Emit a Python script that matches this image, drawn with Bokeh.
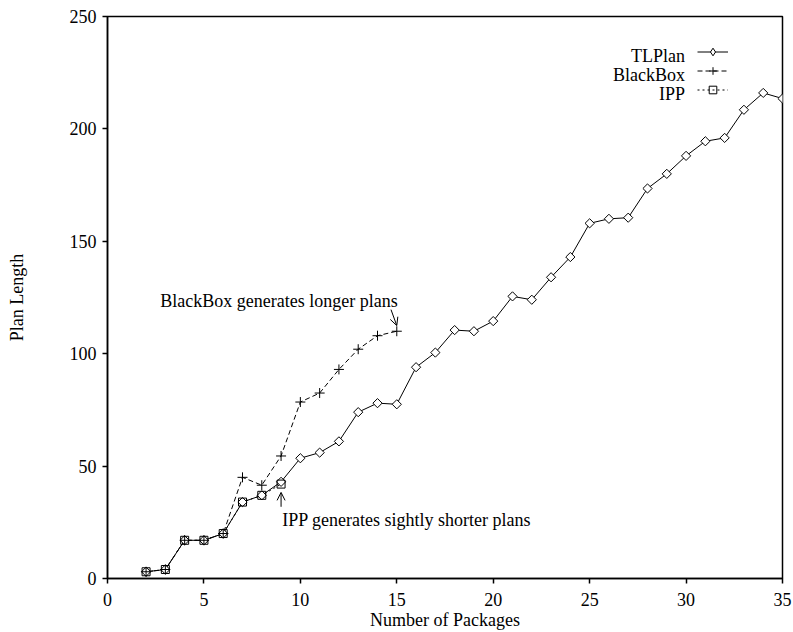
import math
from bokeh.plotting import figure
from bokeh.models import Range1d, FixedTicker, Legend, LegendItem, Label, Arrow, OpenHead
from bokeh.embed import file_html
from bokeh.resources import INLINE

# ---- data ----
packages_tl = list(range(2, 36))
tlplan = [3, 4, 17, 17, 20, 34, 37, 43, 53.5, 56, 61, 74, 78, 77.5, 94, 100.5,
          110.5, 110, 114.5, 125.5, 124, 134, 143, 158, 160, 160.5, 173.5, 180,
          188, 194.5, 196, 208.5, 216, 213.5]
packages_bb = list(range(2, 16))
blackbox = [3, 4, 17, 17, 20, 45, 41.5, 54.5, 78.5, 82.5, 93, 102, 108, 110]
packages_ipp = list(range(2, 10))
ipp = [3, 4, 17, 17, 20, 34, 37, 42]
series_names = ["TLPlan", "BlackBox", "IPP"]
x_ticks = [0, 5, 10, 15, 20, 25, 30, 35]
y_ticks = [0, 50, 100, 150, 200, 250]

FONT = "Liberation Serif"
FS = "18px"

p = figure(width=793, height=632, output_backend="svg", toolbar_location=None,
           x_range=Range1d(0, 35), y_range=Range1d(0, 250),
           min_border_left=107, min_border_right=11, min_border_top=16,
           min_border_bottom=51)
p.grid.visible = False
p.outline_line_color = "black"
p.outline_line_width = 1.5
p.background_fill_color = "white"
p.border_fill_color = "white"

p.xaxis.ticker = FixedTicker(ticks=x_ticks)
p.yaxis.ticker = FixedTicker(ticks=y_ticks)
for ax in (p.xaxis, p.yaxis):
    ax.axis_line_color = "black"
    ax.axis_line_width = 1.5
    ax.major_tick_line_color = "black"
    ax.major_tick_line_width = 1.5
    ax.major_tick_in = 0
    ax.major_tick_out = 5
    ax.minor_tick_line_color = None
    ax.major_label_text_font = FONT
    ax.major_label_text_font_size = FS
    ax.major_label_text_color = "black"
    ax.axis_label_text_font = FONT
    ax.axis_label_text_font_size = FS
    ax.axis_label_text_font_style = "normal"
    ax.axis_label_text_color = "black"
p.xaxis.major_label_standoff = 9
p.yaxis.major_label_standoff = 6
p.xaxis.axis_label = "Number of Packages"
p.yaxis.axis_label = "Plan Length"
p.xaxis.axis_label_standoff = 1
p.yaxis.axis_label_standoff = 40

# ---- series ----
tl_line = p.line(packages_tl, tlplan, line_color="black", line_width=1)
bb_line = p.line(packages_bb, blackbox, line_color="black", line_width=1, line_dash="5 3")
ipp_line = p.line(packages_ipp, ipp, line_color="black", line_width=1, line_dash="2 3")
tl_pts = p.scatter(packages_tl, tlplan, marker="square", angle=math.pi / 4, size=6.5,
                   line_color="black", fill_color="white", line_width=1)
# same series, used only for the legend sample (a diamond glyph)
tl_key = p.scatter(packages_tl, tlplan, marker="diamond", size=9, line_color="black",
                   fill_color="white", line_width=1, visible=False)
bb_pts = p.scatter(packages_bb, blackbox, marker="cross", size=10, line_color="black",
                   line_width=1)
ipp_pts = p.scatter(packages_ipp, ipp, marker="square", size=8, line_color="black",
                    fill_color=None, line_width=1)

legend = Legend(items=[LegendItem(label="", renderers=[tl_line, tl_key]),
                       LegendItem(label="", renderers=[bb_line, bb_pts]),
                       LegendItem(label="", renderers=[ipp_line, ipp_pts])],
                location=(590, 479), glyph_width=31, glyph_height=19,
                label_width=0, label_standoff=0, label_height=19, spacing=0,
                padding=0, margin=0, border_line_color=None,
                background_fill_alpha=0, label_text_font_size="8px",
                inactive_fill_alpha=0)
p.add_layout(legend)

legend_y = [232.6, 224.1, 215.5]
for name, yv in zip(series_names, legend_y):
    p.add_layout(Label(x=29.95, y=yv, text=name, text_align="right",
                       text_baseline="alphabetic", text_font=FONT, text_font_size=FS,
                       text_color="black"))

p.add_layout(Label(x=2.74, y=123.5, text="BlackBox generates longer plans",
                   text_baseline="alphabetic", text_font=FONT, text_font_size=FS,
                   text_color="black"))
p.add_layout(Label(x=9.06, y=26.0, text="IPP generates sightly shorter plans",
                   text_baseline="alphabetic", text_font=FONT, text_font_size=FS,
                   text_color="black"))
p.add_layout(Arrow(end=OpenHead(size=8, line_width=1, line_color="black"),
                   x_start=14.7, y_start=119.6, x_end=15.0, y_end=112.5,
                   line_width=1, line_color="black"))
p.add_layout(Arrow(end=OpenHead(size=8, line_width=1, line_color="black"),
                   x_start=9.0, y_start=31.9, x_end=9.0, y_end=38.3,
                   line_width=1, line_color="black"))

open("out.html", "w").write(file_html(p, INLINE))
